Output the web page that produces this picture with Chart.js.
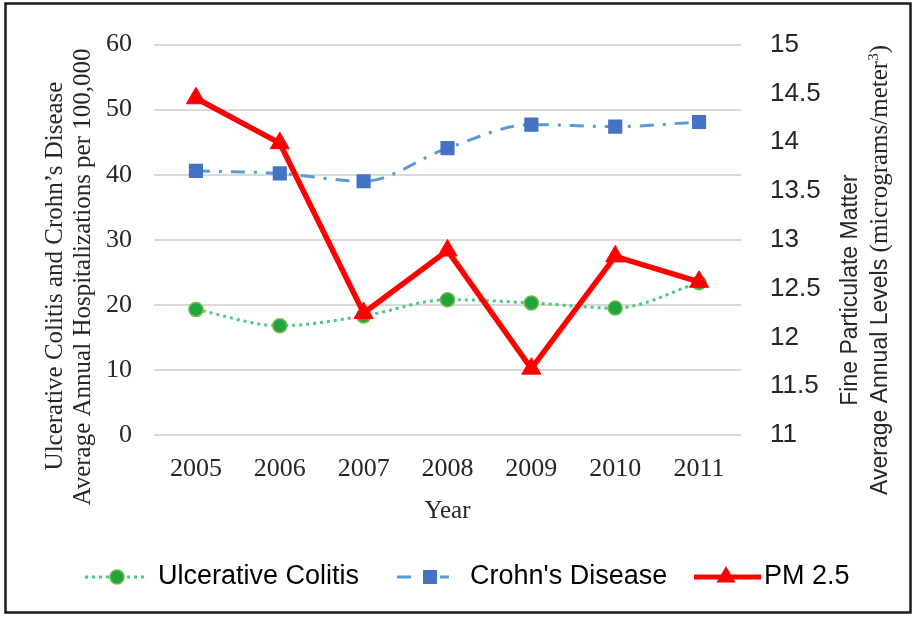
<!DOCTYPE html>
<html>
<head>
<meta charset="utf-8">
<script src="https://cdn.jsdelivr.net/npm/chart.js@4.4.0/dist/chart.umd.min.js"></script>
<style>
  html, body { margin: 0; padding: 0; background: #fff; }
  #wrap { width: 915px; height: 618px; position: relative; }
</style>
</head>
<body>
<div id="wrap"><canvas id="chart" width="915" height="618"></canvas></div>
<script>
// values
const years = ['2005', '2006', '2007', '2008', '2009', '2010', '2011'];
const ulcerativeColitis = [19.3, 16.8, 18.3, 20.8, 20.3, 19.5, 23.4];
const crohnsDisease = [40.6, 40.2, 39.0, 44.1, 47.7, 47.4, 48.1];
const pm25 = [14.45, 13.99, 12.25, 12.89, 11.68, 12.83, 12.57];

const leftTicks = [0, 10, 20, 30, 40, 50, 60];
const rightTicks = [11, 11.5, 12, 12.5, 13, 13.5, 14, 14.5, 15];

const SERIF = '"Liberation Serif", "Times New Roman", serif';
const SANS = '"Liberation Sans", Arial, sans-serif';

// rotated text (reads bottom to top), parts may mix fonts
function drawVertical(ctx, baseX, centerY, parts) {
  let total = 0;
  parts.forEach(p => { ctx.font = p.font; p.w = ctx.measureText(p.text).width; total += p.w; });
  ctx.save();
  ctx.translate(baseX, centerY);
  ctx.rotate(-Math.PI / 2);
  ctx.textAlign = 'left';
  ctx.textBaseline = 'alphabetic';
  let x = -total / 2;
  parts.forEach(p => {
    ctx.font = p.font;
    ctx.fillStyle = '#262626';
    ctx.fillText(p.text, x, -(p.rise || 0));
    x += p.w;
  });
  ctx.restore();
}

const decorations = {
  id: 'decorations',
  afterDraw(chart) {
    const ctx = chart.ctx;
    ctx.save();

    // outer frame
    ctx.strokeStyle = '#1a1a1a';
    ctx.lineWidth = 2.5;
    ctx.strokeRect(5.5, 3.5, 905, 609);

    // left axis title
    drawVertical(ctx, 62, 276, [{ text: 'Ulcerative Colitis and Crohn\u2019s Disease', font: '25px ' + SERIF }]);
    drawVertical(ctx, 90, 277, [{ text: 'Average Annual Hospitalizations per 100,000', font: '25px ' + SERIF }]);

    // right axis title
    drawVertical(ctx, 857, 290, [{ text: 'Fine Particulate Matter', font: '23px ' + SANS }]);
    drawVertical(ctx, 887, 270, [
      { text: 'Average Annual Levels ', font: '23px ' + SANS },
      { text: '(micrograms/meter', font: '25px ' + SERIF },
      { text: '3', font: '15px ' + SERIF, rise: 9 },
      { text: ')', font: '25px ' + SERIF }
    ]);

    // x axis title
    const area = chart.chartArea;
    ctx.font = '25px ' + SERIF;
    ctx.fillStyle = '#262626';
    ctx.textAlign = 'center';
    ctx.textBaseline = 'alphabetic';
    ctx.fillText('Year', (area.left + area.right) / 2, 518);

    // legend
    const ly = 577;
    ctx.font = '27px ' + SANS;
    ctx.textBaseline = 'middle';
    ctx.textAlign = 'left';

    // Ulcerative Colitis
    ctx.strokeStyle = '#4cc97a';
    ctx.lineWidth = 3;
    ctx.setLineDash([3, 4]);
    ctx.beginPath(); ctx.moveTo(85, ly); ctx.lineTo(147, ly); ctx.stroke();
    ctx.setLineDash([]);
    ctx.beginPath(); ctx.arc(117, ly, 7, 0, Math.PI * 2);
    ctx.fillStyle = '#21a440'; ctx.fill();
    ctx.strokeStyle = '#6fb84a'; ctx.lineWidth = 1.5; ctx.stroke();
    ctx.fillStyle = '#000';
    ctx.fillText('Ulcerative Colitis', 158, ly);

    // Crohn's Disease
    ctx.strokeStyle = '#5b9bd5';
    ctx.lineWidth = 3;
    ctx.beginPath(); ctx.moveTo(397, ly); ctx.lineTo(411, ly); ctx.moveTo(440, ly); ctx.lineTo(449, ly); ctx.stroke();
    ctx.fillStyle = '#4472c4';
    ctx.fillRect(423, ly - 7, 14, 14);
    ctx.fillStyle = '#000';
    ctx.fillText("Crohn's Disease", 470, ly);

    // PM 2.5
    ctx.strokeStyle = '#ff0000';
    ctx.lineWidth = 5;
    ctx.beginPath(); ctx.moveTo(694, ly); ctx.lineTo(761, ly); ctx.stroke();
    ctx.fillStyle = '#ff0000';
    ctx.beginPath();
    ctx.moveTo(726, ly - 11);
    ctx.lineTo(726 + 9.5, ly + 5.5);
    ctx.lineTo(726 - 9.5, ly + 5.5);
    ctx.closePath(); ctx.fill();
    ctx.fillStyle = '#000';
    ctx.fillText('PM 2.5', 764, ly);

    ctx.restore();
  }
};

const ctx = document.getElementById('chart');

new Chart(ctx, {
  type: 'line',
  data: {
    labels: years,
    datasets: [
      {
        label: 'PM 2.5',
        data: pm25,
        yAxisID: 'y1',
        order: 0,
        borderColor: '#ff0000',
        borderWidth: 5.5,
        pointStyle: 'triangle',
        pointRadius: 11,
        pointBackgroundColor: '#ff0000',
        pointBorderColor: '#ff0000',
        pointBorderWidth: 1,
        tension: 0
      },
      {
        label: "Crohn's Disease",
        data: crohnsDisease,
        yAxisID: 'y',
        order: 1,
        borderColor: '#5b9bd5',
        borderWidth: 3,
        borderDash: [14, 9, 3, 9],
        pointStyle: 'rect',
        pointRadius: 10,
        pointBackgroundColor: '#4472c4',
        pointBorderColor: '#4472c4',
        pointBorderWidth: 0,
        cubicInterpolationMode: 'monotone',
        tension: 0.3
      },
      {
        label: 'Ulcerative Colitis',
        data: ulcerativeColitis,
        yAxisID: 'y',
        order: 2,
        borderColor: '#4cc97a',
        borderWidth: 3,
        borderDash: [3, 4],
        pointStyle: 'circle',
        pointRadius: 7,
        pointBackgroundColor: '#21a440',
        pointBorderColor: '#6fb84a',
        pointBorderWidth: 1.5,
        cubicInterpolationMode: 'monotone',
        tension: 0.3
      }
    ]
  },
  options: {
    responsive: false,
    animation: false,
    layout: { padding: { top: 36, left: 0, right: 0, bottom: 0 } },
    plugins: {
      legend: { display: false },
      tooltip: { enabled: false }
    },
    scales: {
      x: {
        offset: true,
        grid: { display: false },
        border: { display: false },
        ticks: { color: '#262626', font: { family: SERIF, size: 26 }, padding: 11, maxRotation: 0 },
        afterFit: (scale) => { scale.height = 183; }
      },
      y: {
        position: 'left',
        min: leftTicks[0],
        max: leftTicks[leftTicks.length - 1],
        ticks: { stepSize: 10, color: '#262626', font: { family: SERIF, size: 26 }, padding: 22 },
        grid: { color: '#d9d9d9', lineWidth: 2, drawTicks: false },
        border: { display: false },
        afterFit: (scale) => { scale.width = 154; }
      },
      y1: {
        position: 'right',
        min: rightTicks[0],
        max: rightTicks[rightTicks.length - 1],
        ticks: { stepSize: 0.5, color: '#262626', font: { family: SANS, size: 26 }, padding: 29,
                 callback: (v) => String(v) },
        grid: { display: false, drawTicks: false },
        border: { display: false },
        afterFit: (scale) => { scale.width = 174; }
      }
    }
  },
  plugins: [decorations]
});
</script>
</body>
</html>
